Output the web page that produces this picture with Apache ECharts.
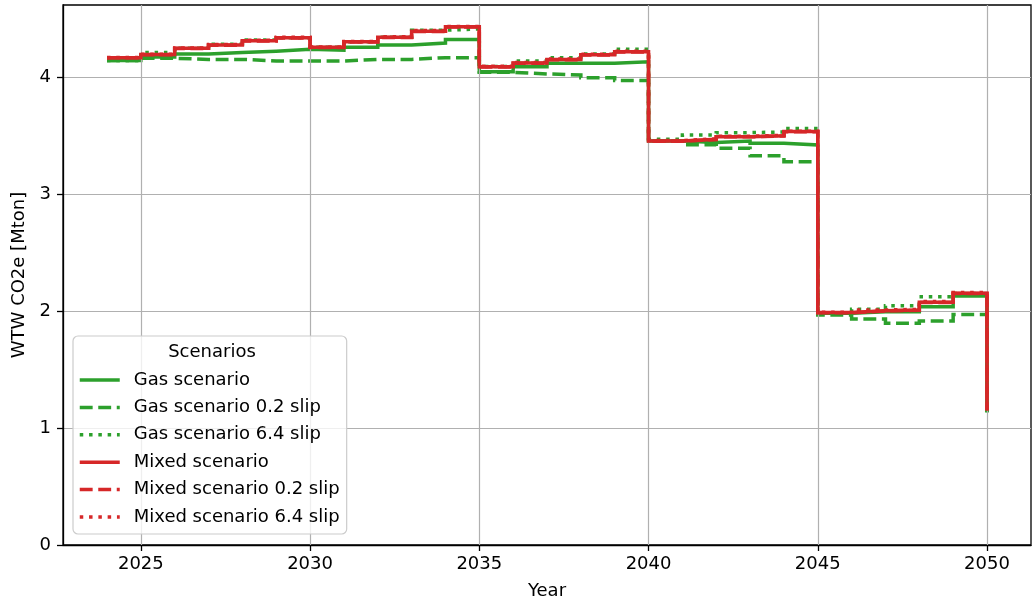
<!DOCTYPE html>
<html>
<head>
<meta charset="utf-8">
<script src="https://cdn.jsdelivr.net/npm/echarts@6/dist/echarts.min.js"></script>
<style>
html,body{margin:0;padding:0;background:#fff;}
#chart{width:1033px;height:605px;}
</style>
</head>
<body>
<div id="chart"></div>
<script>
const years = [2024,2025,2026,2027,2028,2029,2030,2031,2032,2033,2034,2035,2036,2037,2038,2039,2040,2041,2042,2043,2044,2045,2046,2047,2048,2049,2050];
const gas =      [4.140,4.170,4.197,4.210,4.220,4.236,4.228,4.254,4.274,4.290,4.320,4.045,4.088,4.117,4.117,4.130,3.453,3.440,3.453,3.433,3.419,1.980,1.994,1.994,2.037,2.128,1.135];
const gas02 =    [4.140,4.160,4.150,4.150,4.137,4.137,4.137,4.150,4.150,4.165,4.165,4.040,4.026,4.017,3.994,3.970,3.450,3.420,3.390,3.327,3.276,1.966,1.932,1.895,1.915,1.970,1.135];
const gas64 =    [4.140,4.210,4.245,4.280,4.316,4.336,4.254,4.300,4.340,4.400,4.410,4.090,4.137,4.165,4.197,4.236,3.467,3.504,3.524,3.530,3.560,1.980,2.014,2.045,2.122,2.150,1.135];
const mixed =    [4.165,4.192,4.245,4.274,4.310,4.336,4.254,4.300,4.340,4.390,4.430,4.088,4.120,4.150,4.190,4.216,3.453,3.467,3.490,3.498,3.533,1.986,2.003,2.009,2.074,2.151,1.150];
const mixed02 =  [4.165,4.190,4.243,4.272,4.308,4.334,4.252,4.298,4.338,4.388,4.428,4.086,4.118,4.148,4.188,4.214,3.451,3.465,3.488,3.496,3.531,1.984,2.001,2.007,2.072,2.149,1.150];
const mixed64 =  [4.167,4.195,4.248,4.277,4.313,4.339,4.257,4.303,4.343,4.398,4.432,4.091,4.124,4.154,4.194,4.220,3.456,3.471,3.494,3.502,3.537,1.989,2.008,2.014,2.080,2.158,1.150];
const seriesNames = ['Gas scenario','Gas scenario 0.2 slip','Gas scenario 6.4 slip','Mixed scenario','Mixed scenario 0.2 slip','Mixed scenario 6.4 slip'];
const xTicks = [2025,2030,2035,2040,2045,2050];
const yTicks = [0,1,2,3,4];

const GREEN = '#2ca02c', RED = '#d62728';
const FONT = 'DejaVu Sans';
const FS = 18;
const LW = 3.5;
const DASH = [12.9, 5.6];
const DOT = [3.5, 5.8];
const lineTypes = ['solid', DASH, DOT, 'solid', DASH, DOT];

function mk(name, vals, color, type, z) {
  return {
    name: name, type: 'line', step: 'end', symbol: 'none', showSymbol: false,
    data: years.map((y, i) => [y, vals[i]]),
    lineStyle: {color: color, width: LW, type: type, cap: 'butt', join: 'miter'},
    itemStyle: {color: color},
    z: z, animation: false, silent: true
  };
}

const chart = echarts.init(document.getElementById('chart'), null, {renderer: 'canvas'});
const option = {
  animation: false,
  textStyle: {fontFamily: FONT},
  grid: {left: 63, top: 5, width: 968, height: 540, show: true, borderColor: '#000', borderWidth: 1.3, backgroundColor: 'transparent', containLabel: false},
  xAxis: {
    type: 'value', min: 2022.7, max: 2051.3,
    name: 'Year', nameLocation: 'middle', nameGap: 37,
    nameTextStyle: {fontFamily: FONT, fontSize: FS, color: '#000'},
    axisLine: {show: true, lineStyle: {color: '#000', width: 1.3}},
    axisTick: {show: true, length: 6, inside: false, customValues: xTicks, lineStyle: {color: '#000', width: 1.3}},
    axisLabel: {show: true, customValues: xTicks, margin: 10, fontFamily: FONT, fontSize: FS, color: '#000', formatter: v => String(v)},
    splitLine: {show: false}
  },
  yAxis: {
    type: 'value', min: 0, max: 4.615, interval: 1,
    name: 'WTW CO2e [Mton]', nameLocation: 'middle', nameGap: 34, nameRotate: 90,
    nameTextStyle: {fontFamily: FONT, fontSize: FS, color: '#000'},
    axisLine: {show: true, lineStyle: {color: '#000', width: 1.3}},
    axisTick: {show: true, length: 6, inside: false, customValues: yTicks, lineStyle: {color: '#000', width: 1.3}},
    axisLabel: {show: true, customValues: yTicks, margin: 12, fontFamily: FONT, fontSize: FS, color: '#000', formatter: v => String(v)},
    splitLine: {show: true, lineStyle: {color: '#b0b0b0', width: 1.2}}
  },
  legend: {
    orient: 'vertical', left: 73, top: 336,
    data: seriesNames.map((n, i) => ({name: n, lineStyle: {width: LW, type: lineTypes[i], cap: 'butt'}})),
    padding: [35, 7, 8, 5],
    itemWidth: 40, itemHeight: 18, itemGap: 9.4,
    itemStyle: {color: 'rgba(0,0,0,0)', borderColor: 'rgba(0,0,0,0)', borderWidth: 0},
    lineStyle: {width: LW},
    backgroundColor: 'rgba(255,255,255,0.8)', borderColor: '#cccccc', borderWidth: 1.2, borderRadius: 5,
    textStyle: {fontFamily: FONT, fontSize: FS, color: '#000', lineHeight: 18, padding: [0, 0, 0, 9]},
    selectedMode: false, z: 10
  },
  graphic: [{
    type: 'text', x: 212, y: 352, z: 100,
    style: {text: 'Scenarios', fill: '#000', font: FS + 'px "' + FONT + '"', textAlign: 'center', textVerticalAlign: 'middle'}
  }],
  series: [
    {
      name: 'grid-x', type: 'line', data: [], z: 1, silent: true, animation: false,
      markLine: {
        silent: true, symbol: ['none', 'none'], animation: false,
        label: {show: false},
        lineStyle: {color: '#b0b0b0', width: 1.2, type: 'solid'},
        data: xTicks.map(t => ({xAxis: t}))
      }
    },
    mk(seriesNames[0], gas, GREEN, lineTypes[0], 2),
    mk(seriesNames[1], gas02, GREEN, lineTypes[1], 3),
    mk(seriesNames[2], gas64, GREEN, lineTypes[2], 4),
    mk(seriesNames[3], mixed, RED, lineTypes[3], 5),
    mk(seriesNames[4], mixed02, RED, lineTypes[4], 6),
    mk(seriesNames[5], mixed64, RED, lineTypes[5], 7)
  ]
};
chart.setOption(option);
</script>
</body>
</html>
